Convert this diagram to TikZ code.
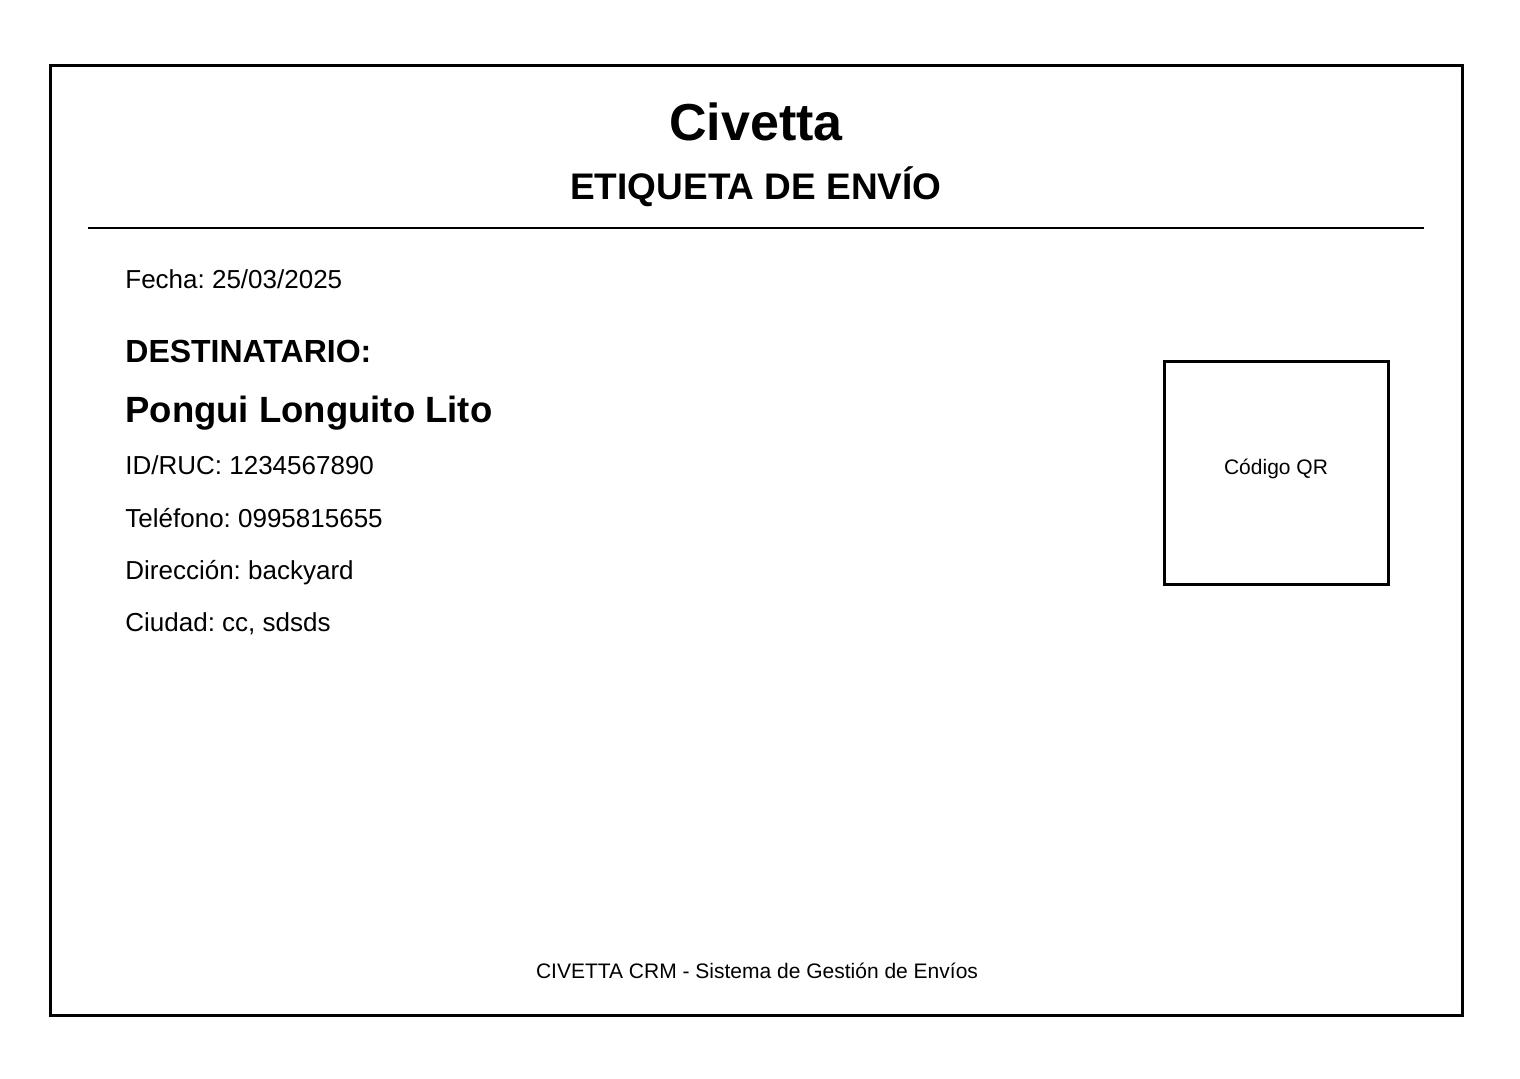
\documentclass[tikz,border=0pt]{standalone}
\usepackage{fontspec}
\setmainfont{Liberation Sans}
\frenchspacing
\usetikzlibrary{positioning}
\tikzstyle{sheet}=[x=0.5pt, y=-0.5pt]
\tikzstyle{frame}=[draw, line width=1.5pt]
\tikzstyle{field}=[anchor=base west, inner sep=0pt, font=\fontsize{13}{15}\selectfont]
\tikzstyle{heading}=[anchor=base, inner sep=0pt]

\begin{document}
\begin{tikzpicture}[sheet]
  \useasboundingbox (0,0) rectangle (1520,1078);
  \draw[frame] (50,65) rectangle (1462,1015);
  \node[heading, font=\bfseries\fontsize{26}{30}\selectfont] (title) at (756,140) {Civetta};
  \node[heading, font=\bfseries\fontsize{18.5}{22}\selectfont] (sub) at (756,199) {ETIQUETA DE ENVÍO};
  \coordinate (sepL) at (88,228);
  \coordinate (sepR) at (1424,228);
  \draw[line width=1pt] (sepL) -- (sepR);
  \node[field] (fecha) at (125,288) {Fecha: 25/03/2025};
  \node[field, font=\bfseries\fontsize{16}{19}\selectfont] (dest) at (125,362) {DESTINATARIO:};
  \node[field, font=\bfseries\fontsize{18.25}{22}\selectfont] (name) at (125,422) {Pongui Longuito Lito};
  \node[field] (id) at (125,474) {ID/RUC: 1234567890};
  \node[field] (tel) at (125,527) {Teléfono: 0995815655};
  \node[field] (dir) at (125,579) {Dirección: backyard};
  \node[field] (city) at (125,631) {Ciudad: cc, sdsds};
  \node[frame, minimum width=112pt, minimum height=111.5pt, inner sep=0pt] (qr) at (1276,472.5) {};
  \node[heading, font=\fontsize{10.5}{12}\selectfont] (qrtext) at (1276,474) {Código QR};
  \node[heading, font=\fontsize{10.5}{12}\selectfont] (foot) at (757,978) {CIVETTA CRM - Sistema de Gestión de Envíos};
\end{tikzpicture}
\end{document}
